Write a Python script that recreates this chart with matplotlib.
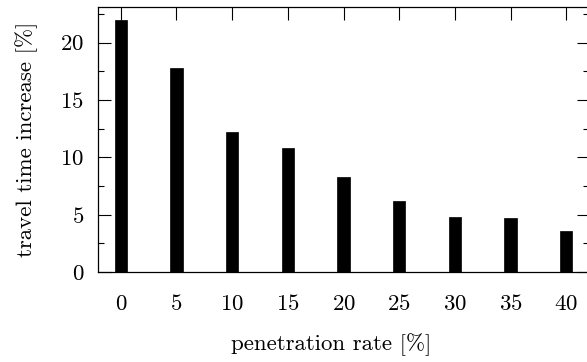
import numpy as np
import matplotlib
matplotlib.use('Agg')
import matplotlib.pyplot as plt
from matplotlib import ticker

plt.rcParams['font.family'] = ['cmr10', 'DejaVu Serif']
plt.rcParams['axes.formatter.use_mathtext'] = True
plt.rcParams['mathtext.fontset'] = 'cm'

penetration = [0, 5, 10, 15, 20, 25, 30, 35, 40]
increase = [22.0, 17.8, 12.2, 10.8, 8.25, 6.2, 4.8, 4.7, 3.6]
x_ticks = [0, 5, 10, 15, 20, 25, 30, 35, 40]
y_ticks = [0, 5, 10, 15, 20]

fig = plt.figure(figsize=(5.87, 3.62), dpi=100)
ax = fig.add_axes([98 / 587, 90 / 362, 491 / 587, 265 / 362])

ax.bar(penetration, increase, width=1.1, color='black', edgecolor='black', linewidth=0.5)

ax.set_xlim(-2.05, 42.05)
ax.set_ylim(0, 23.1)
ax.set_xticks(x_ticks)
ax.set_yticks(y_ticks)
ax.yaxis.set_minor_locator(ticker.MultipleLocator(2.5))

for s in ax.spines.values():
    s.set_linewidth(0.9)

ax.tick_params(axis='both', which='both', direction='in', top=True, right=True,
               width=0.8, labelsize=16.5, pad=10)
ax.tick_params(axis='both', which='major', length=9)
ax.tick_params(axis='both', which='minor', length=4.5)
ax.tick_params(axis='x', pad=16)

ax.set_xlabel('penetration rate [%]', fontsize=16.5, va='center')
ax.xaxis.set_label_coords((331 - 98) / 491, (272 - 345) / 265)
ax.set_ylabel('travel time increase [%]', fontsize=16.5, va='center')
ax.yaxis.set_label_coords((27 - 98) / 491, 0.5)

fig.savefig('out.png', dpi=100)
